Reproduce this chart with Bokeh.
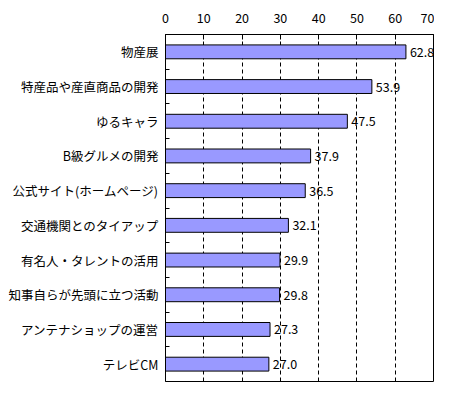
from bokeh.plotting import figure
from bokeh.models import ColumnDataSource, Range1d, FixedTicker
from bokeh.core.properties import value
from bokeh.embed import file_html
from bokeh.resources import INLINE

categories = ["物産展", "特産品や産直商品の開発", "ゆるキャラ", "B級グルメの開発",
              "公式サイト(ホームページ)", "交通機関とのタイアップ", "有名人・タレントの活用",
              "知事自らが先頭に立つ活動", "アンテナショップの運営", "テレビCM"]
values = [62.8, 53.9, 47.5, 37.9, 36.5, 32.1, 29.9, 29.8, 27.3, 27.0]
x_ticks = [0, 10, 20, 30, 40, 50, 60, 70]

FONT = "Noto Sans CJK JP"

pos = [i + 0.5 for i in range(len(categories))]
src = ColumnDataSource(dict(y=pos, v=values, lab=[f"{v:.1f}" for v in values]))

p = figure(width=434, height=382, output_backend="svg", toolbar_location=None,
           x_range=Range1d(0, 70), y_range=Range1d(len(categories), 0),
           x_axis_location="above",
           min_border_left=165, min_border_right=1, min_border_top=34, min_border_bottom=1)

p.hbar(y="y", left=0, right="v", height=0.4, source=src,
       fill_color="#9999FF", line_color="black", line_width=1)
p.text(x="v", y="y", text="lab", source=src, x_offset=4,
       text_align="left", text_baseline="middle",
       text_font=value(FONT), text_font_size="12.5px", text_color="black")

# x axis (top)
xa = p.xaxis[0]
xa.ticker = FixedTicker(ticks=x_ticks)
xa.major_tick_in = 5
xa.major_tick_out = 0
xa.minor_tick_line_color = None
xa.major_label_standoff = 12
xa.major_label_text_font = FONT
xa.major_label_text_font_size = "12.5px"
xa.major_label_text_color = "black"
xa.axis_line_color = "black"
xa.major_tick_line_color = "black"

# y axis (categories)
ya = p.yaxis[0]
ya.ticker = FixedTicker(ticks=pos, minor_ticks=list(range(1, len(categories))))
ya.major_label_overrides = {pv: c for pv, c in zip(pos, categories)}
ya.major_tick_in = 0
ya.major_tick_out = 0
ya.minor_tick_in = 4
ya.minor_tick_out = 0
ya.minor_tick_line_color = "black"
ya.major_label_standoff = 7
ya.major_label_text_font = FONT
ya.major_label_text_font_size = "12.5px"
ya.major_label_text_color = "black"
ya.axis_line_color = "black"

p.xgrid.ticker = FixedTicker(ticks=x_ticks[1:-1])
p.xgrid.grid_line_color = "black"
p.xgrid.grid_line_dash = "4 3"
p.ygrid.grid_line_color = None

p.outline_line_color = "black"
p.outline_line_width = 1
p.background_fill_color = "white"
p.border_fill_color = "white"

open("out.html", "w").write(file_html(p, INLINE))
